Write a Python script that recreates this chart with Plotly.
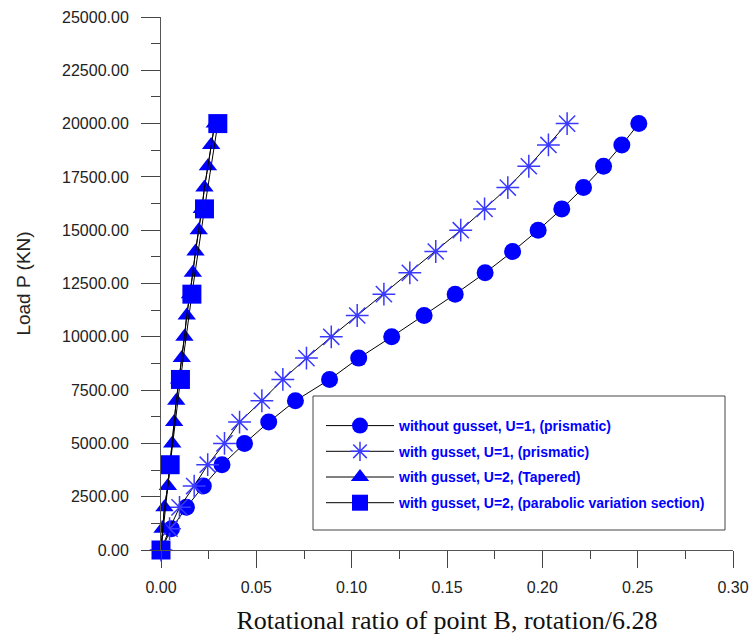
import plotly.graph_objects as go

# ---------------- data ----------------
load_kn = [0, 1000, 2000, 3000, 4000, 5000, 6000, 7000, 8000, 9000, 10000,
           11000, 12000, 13000, 14000, 15000, 16000, 17000, 18000, 19000, 20000]

rot_without_gusset_u1 = [0.0, 0.0055, 0.0133, 0.0222, 0.0320, 0.0438, 0.0565, 0.0705,
                         0.0884, 0.1037, 0.1210, 0.1380, 0.1543, 0.1700, 0.1844,
                         0.1978, 0.2102, 0.2216, 0.2321, 0.2417, 0.2506]

rot_with_gusset_u1 = [0.0, 0.0045, 0.0097, 0.0174, 0.0245, 0.0333, 0.0412, 0.0529,
                      0.0639, 0.0763, 0.0893, 0.1029, 0.1169, 0.1305, 0.1441,
                      0.1572, 0.1697, 0.1819, 0.1929, 0.2032, 0.2130]

rot_with_gusset_u2_tapered = [0.0, 0.0008, 0.0018, 0.0036, 0.0048, 0.0059, 0.0069, 0.0080,
                              0.0095, 0.0109, 0.0123, 0.0135, 0.0152, 0.0167, 0.0181,
                              0.0198, 0.0214, 0.0228, 0.0246, 0.0263, 0.0282]

load_parabolic_kn = [0, 4000, 8000, 12000, 16000, 20000]
rot_with_gusset_u2_parabolic = [0.0, 0.0048, 0.0102, 0.0162, 0.0228, 0.0298]

series_names = [
    "without gusset, U=1, (prismatic)",
    "with gusset, U=1, (prismatic)",
    "with gusset, U=2, (Tapered)",
    "with gusset, U=2, (parabolic variation section)",
]

x_tick_vals = [0.0, 0.05, 0.10, 0.15, 0.20, 0.25, 0.30]
y_tick_vals = [0, 2500, 5000, 7500, 10000, 12500, 15000, 17500, 20000, 22500, 25000]

# ---------------- styles ----------------
BLUE = "#0000ff"
LINE = dict(color="black", width=1)
SANS = "Liberation Sans, Arial, sans-serif"
SERIF = "Liberation Serif, Times New Roman, serif"

fig = go.Figure()

fig.add_trace(go.Scatter(
    x=rot_without_gusset_u1, y=load_kn, name=series_names[0], legendgroup="a",
    mode="lines+markers", line=LINE, cliponaxis=False,
    marker=dict(symbol="circle", size=17, color=BLUE, line=dict(width=0)),
))
fig.add_trace(go.Scatter(
    x=rot_with_gusset_u1, y=load_kn, name=series_names[1], legendgroup="b",
    mode="lines+markers", line=LINE, cliponaxis=False,
    marker=dict(symbol="asterisk-open", size=19, color="#3a3aff",
                line=dict(color="#3a3aff", width=1.5)),
))
fig.add_trace(go.Scatter(
    x=rot_with_gusset_u2_tapered, y=load_kn, name=series_names[2], legendgroup="c",
    mode="lines+markers", line=LINE, cliponaxis=False,
    marker=dict(symbol="triangle-up", size=16, color=BLUE, line=dict(width=0)),
))
# line of the tapered series drawn again on top of its markers
fig.add_trace(go.Scatter(
    x=rot_with_gusset_u2_tapered, y=load_kn, mode="lines", line=LINE,
    showlegend=False, hoverinfo="skip", cliponaxis=False,
))
fig.add_trace(go.Scatter(
    x=rot_with_gusset_u2_parabolic, y=load_parabolic_kn, name=series_names[3], legendgroup="d",
    mode="lines+markers", line=LINE, cliponaxis=False,
    marker=dict(symbol="square", size=19, color=BLUE, line=dict(width=0)),
))

fig.update_layout(
    width=751, height=637,
    margin=dict(l=161, r=18, t=17, b=87, autoexpand=False),
    paper_bgcolor="white", plot_bgcolor="white",
    showlegend=True,
    legend=dict(
        x=(321 - 161) / 572, y=(550 - 410) / 533, xanchor="left", yanchor="top",
        bgcolor="rgba(0,0,0,0)", borderwidth=0,
        font=dict(family=SANS, size=14, color=BLUE, weight="bold"),
        tracegroupgap=4.5, itemwidth=68,
    ),
    shapes=[dict(
        type="rect", xref="paper", yref="paper",
        x0=(313 - 161) / 572, x1=(725 - 161) / 572,
        y0=(550 - 530) / 533, y1=(550 - 396) / 533,
        line=dict(color="#444", width=1), fillcolor="rgba(0,0,0,0)", layer="below",
    )],
)

fig.update_xaxes(
    range=[0, 0.30], tickvals=x_tick_vals, tickformat=".2f", automargin=False,
    showgrid=False, zeroline=False, showline=True, linecolor="#555", linewidth=1,
    ticks="outside", ticklen=17, tickwidth=1, tickcolor="#444",
    minor=dict(dtick=0.025, ticks="outside", ticklen=8, tickwidth=1, tickcolor="#444"),
    tickfont=dict(family=SANS, size=16, color="#222"), ticklabelstandoff=6,
    title=dict(text="Rotational ratio of point B, rotation/6.28",
               font=dict(family=SERIF, size=26, color="#111"), standoff=15),
)
fig.update_yaxes(
    range=[0, 25000], tickvals=y_tick_vals, tickformat=".2f", automargin=False,
    showgrid=False, zeroline=False, showline=True, linecolor="#555", linewidth=1,
    ticks="outside", ticklen=19, tickwidth=1, tickcolor="#444",
    minor=dict(dtick=1250, ticks="outside", ticklen=9, tickwidth=1, tickcolor="#444"),
    tickfont=dict(family=SANS, size=16, color="#222"), ticklabelstandoff=9,
    title=dict(text="Load P (KN)", font=dict(family=SANS, size=19, color="#222"), standoff=26),
)

fig.write_html("out.html")
